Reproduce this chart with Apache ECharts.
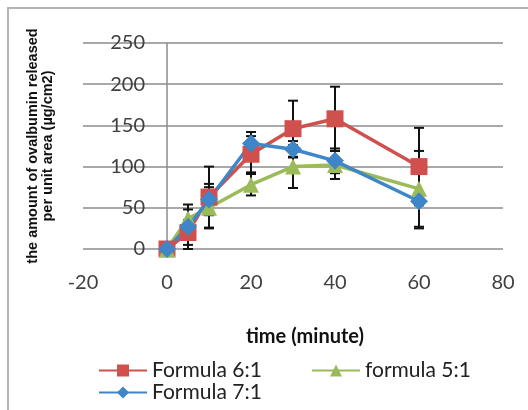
<!DOCTYPE html>
<html>
<head>
<meta charset="utf-8">
<script src="https://cdn.jsdelivr.net/npm/echarts@6/dist/echarts.min.js"></script>
<style>
  html, body { margin: 0; padding: 0; background: #fff; }
  #chart { width: 528px; height: 410px; }
</style>
</head>
<body>
<div id="chart"></div>
<script>
// time points (minute)
const times = [0, 5, 10, 20, 30, 40, 60]
const seriesNames = ['Formula 6:1', 'formula 5:1', 'Formula 7:1']
// released ovalbumin per unit area
const f61 = [0, 20, 63, 115, 146, 158, 100]
const f51 = [0, 37, 50, 78, 100, 102, 73]
const f71 = [0, 27, 60, 128, 121, 107, 58]
// error bar half heights
const f61Err = [0, 15, 37, 22, 34, 39, 47]
const f51Err = [0, 11, 25, 13, 26, 17, 46]
const f71Err = [0, 27, 19, 14, 10, 15, 33]
const xTicks = [-20, 0, 20, 40, 60, 80]
const yTicks = [0, 50, 100, 150, 200, 250]

const colors = ['#d0504d', '#9bbb59', '#3f86c9']
const symbols = ['rect', 'triangle', 'diamond']
const symbolSizes = [17, 16, 18]

const chart = echarts.init(document.getElementById('chart'))

function pairs (vals) {
  return times.map((t, i) => [t, vals[i]])
}

function errData (vals, errs) {
  return times.map((t, i) => [t, vals[i], errs[i]])
}

function renderErr (params, api) {
  const x = api.value(0)
  const y = api.value(1)
  const e = api.value(2)
  if (!e) return null
  const hi = api.coord([x, y + e])
  const lo = api.coord([x, y - e])
  const w = 5
  const style = { stroke: '#111', lineWidth: 2 }
  return {
    type: 'group',
    children: [
      { type: 'line', shape: { x1: hi[0], y1: hi[1], x2: lo[0], y2: lo[1] }, style: style },
      { type: 'line', shape: { x1: hi[0] - w, y1: hi[1], x2: hi[0] + w, y2: hi[1] }, style: style },
      { type: 'line', shape: { x1: lo[0] - w, y1: lo[1], x2: lo[0] + w, y2: lo[1] }, style: style }
    ]
  }
}

const values = [f61, f51, f71]
const errs = [f61Err, f51Err, f71Err]

const errSeries = values.map((v, i) => {
  return {
    type: 'custom',
    name: seriesNames[i] + ' err',
    renderItem: renderErr,
    data: errData(v, errs[i]),
    encode: { x: 0, y: 1 },
    z: 1,
    silent: true
  }
})

const lineSeries = values.map((v, i) => {
  return {
    name: seriesNames[i],
    type: 'line',
    data: pairs(v),
    symbol: symbols[i],
    symbolSize: symbolSizes[i],
    showAllSymbol: true,
    lineStyle: { width: 3.5, color: colors[i] },
    itemStyle: { color: colors[i] },
    z: 3
  }
})

const option = {
  animation: false,
  textStyle: { fontFamily: 'Lato' },
  graphic: [
    {
      type: 'rect',
      shape: { x: 8, y: 8, width: 600, height: 500 },
      style: { fill: 'none', stroke: '#b4b4b4', lineWidth: 2 },
      silent: true
    }
  ],
  grid: {
    left: 83,
    right: 25,
    top: 43,
    bottom: 161,
    outerBoundsMode: 'none'
  },
  legend: {
    data: seriesNames,
    left: 93,
    top: 355,
    width: 440,
    itemWidth: 48,
    itemHeight: 15,
    itemGap: 1,
    textStyle: {
      fontFamily: 'Lato',
      fontSize: 21,
      color: '#222',
      width: 158,
      lineHeight: 17
    }
  },
  xAxis: {
    type: 'value',
    min: xTicks[0],
    max: xTicks[xTicks.length - 1],
    interval: 20,
    name: 'time (minute)',
    nameLocation: 'middle',
    nameGap: 78,
    nameTextStyle: {
      fontFamily: 'Lato',
      fontWeight: 'bold',
      fontSize: 20,
      color: '#111',
      padding: [0, 0, 0, 24]
    },
    axisLine: { show: false },
    axisTick: { show: false },
    splitLine: { show: false },
    axisLabel: {
      margin: 24,
      fontFamily: 'Lato',
      fontSize: 20,
      color: '#404040',
      customValues: xTicks
    }
  },
  yAxis: {
    type: 'value',
    min: yTicks[0],
    max: yTicks[yTicks.length - 1],
    interval: 50,
    offset: -84,
    name: 'the amount of ovalbumin released\nper unit area (µg/cm2)',
    nameLocation: 'middle',
    nameGap: 112,
    nameTextStyle: {
      fontFamily: 'Liberation Sans',
      fontWeight: 'bold',
      fontSize: 14.5,
      lineHeight: 15,
      color: '#111'
    },
    axisLine: { show: true, onZero: false, lineStyle: { color: '#8c8c8c', width: 1.5 } },
    axisTick: { show: false },
    splitLine: { show: true, lineStyle: { color: '#8c8c8c', width: 1.5 } },
    axisLabel: {
      margin: 22,
      fontFamily: 'Lato',
      fontSize: 20,
      color: '#404040'
    }
  },
  series: errSeries.concat(lineSeries)
}

chart.setOption(option)
</script>
</body>
</html>
